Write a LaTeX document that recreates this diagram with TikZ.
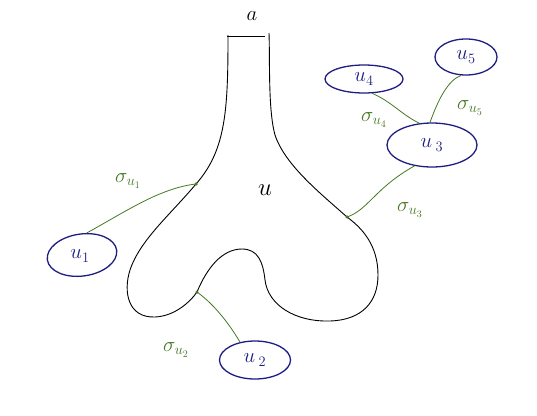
\documentclass[tikz,border=0pt]{standalone}
\usetikzlibrary{shapes.geometric}
\definecolor{inkblue}{RGB}{30,30,130}
\definecolor{inkgreen}{RGB}{70,120,35}
\begin{document}
\begin{tikzpicture}[x=1pt,y=-1pt,
  unode/.style={draw=inkblue,line width=1.3pt,ellipse,inner sep=0pt,font=\fontsize{21}{21}\selectfont,text=inkblue},
  sigma/.style={draw=inkgreen,line width=0.8pt},
  siglabel/.style={text=inkgreen,font=\fontsize{20}{20}\selectfont},
  jdot/.style={fill=inkgreen,circle,inner sep=0pt,minimum size=3.5pt},
  outline/.style={draw=black,line width=0.9pt}]
\useasboundingbox[fill=white] (0,0) rectangle (537,415);
% junction points on the outline
\coordinate (j1) at (196,184);
\coordinate (j2) at (197,292);
\coordinate (j3) at (347,217);
\coordinate (barL) at (227,36);
\coordinate (barR) at (265,36);
% outline
\draw[outline] (228,35) .. controls (228,110) and (226,150) .. (j1)
  .. controls (170,215) and (140,240) .. (130,270)
  .. controls (123,292) and (128,318) .. (155,317)
  .. controls (175,316) and (190,302) .. (j2)
  .. controls (207,268) and (222,249) .. (242,249)
  .. controls (258,249) and (263,262) .. (265,280)
  .. controls (268,305) and (295,322) .. (330,321)
  .. controls (362,320) and (378,302) .. (378,275)
  .. controls (378,245) and (362,228) .. (j3)
  .. controls (320,193) and (285,165) .. (275,135)
  .. controls (268,110) and (270,60) .. (269,33);
\draw[outline] (barL) -- (barR);
\node[font=\fontsize{22}{22}\selectfont] (a) at (252,16) {$a$};
\node[font=\fontsize{24}{24}\selectfont] (u) at (265,190) {$u$};
% nodes
\node[unode,minimum width=70pt,minimum height=42pt,rotate=8] (u1) at (82,255) {};
\node[text=inkblue,font=\fontsize{21}{21}\selectfont] (t1) at (80,256) {$u_1$};
\node[unode,minimum width=71pt,minimum height=38pt] (u2) at (255,360) {$u\,_2$};
\node[unode,minimum width=90pt,minimum height=44pt] (u3) at (432,145) {$u\,_3$};
\node[unode,minimum width=78pt,minimum height=28pt] (u4) at (364,79) {$u_4$};
\node[unode,minimum width=62pt,minimum height=36pt] (u5) at (466,57) {$u_5$};
% connectors
\draw[sigma] (u1.70) .. controls (125,212) and (160,188) .. (j1);
\draw[sigma] (j2) .. controls (215,305) and (230,325) .. (u2.130);
\draw[sigma] (u3.230) .. controls (375,188) and (368,210) .. (j3);
\draw[sigma] (u4.300) .. controls (392,102) and (402,115) .. (u3.120);
\draw[sigma] (u3.95) .. controls (438,100) and (448,80) .. (u5.255);
\node[jdot] at (j1) {};
\node[jdot] at (j2) {};
\node[jdot] at (j3) {};
% labels
\node[siglabel] (s1) at (128,181) {$\sigma_{u_1}$};
\node[siglabel] (s2) at (176,350) {$\sigma_{u_2}$};
\node[siglabel] (s3) at (410,210) {$\sigma_{u_3}$};
\node[siglabel] (s4) at (374,120) {$\sigma_{u_4}$};
\node[siglabel] (s5) at (470,108) {$\sigma_{u_5}$};
\end{tikzpicture}
\end{document}
